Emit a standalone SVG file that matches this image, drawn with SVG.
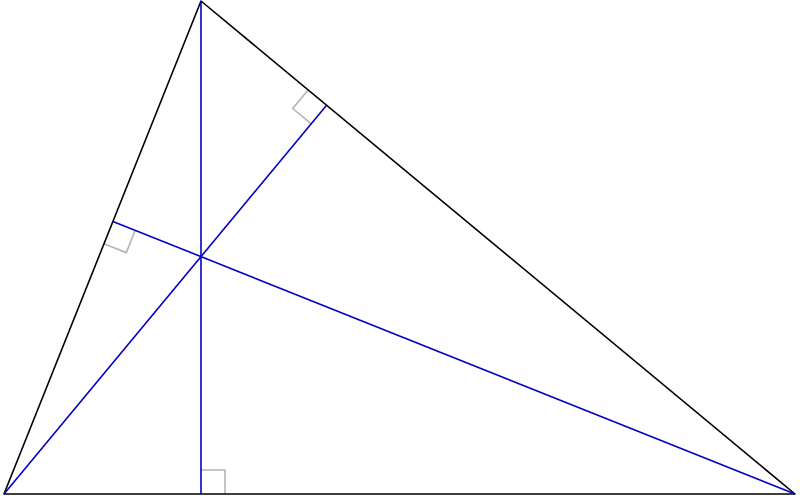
<svg xmlns="http://www.w3.org/2000/svg" width="800" height="499" viewBox="0 0 800 499">
<style>
.tri{fill:none;stroke:#000;stroke-width:1.6;stroke-linejoin:round}
.alt{fill:none;stroke:#0000c8;stroke-width:1.6}
.ra{fill:none;stroke:#b4b4b4;stroke-width:1.6}
</style>
<rect width="800" height="499" fill="#fff"/>
<g id="right-angles">
<polyline class="ra" points="201,470 225,470 225,494"/>
<polyline class="ra" points="308.1,90 292.8,108.5 311.3,123.8"/>
<polyline class="ra" points="104,243.7 126.3,252.6 135.2,230.3"/>
</g>
<g id="triangle">
<polygon class="tri" points="4,494 795,494 201,1"/>
</g>
<g id="connectors">
<line class="alt" x1="201" y1="1" x2="201" y2="494"/>
<line class="alt" x1="4" y1="494" x2="326.6" y2="105.3"/>
<line class="alt" x1="795" y1="494" x2="112.9" y2="221.4"/>
</g>
</svg>
